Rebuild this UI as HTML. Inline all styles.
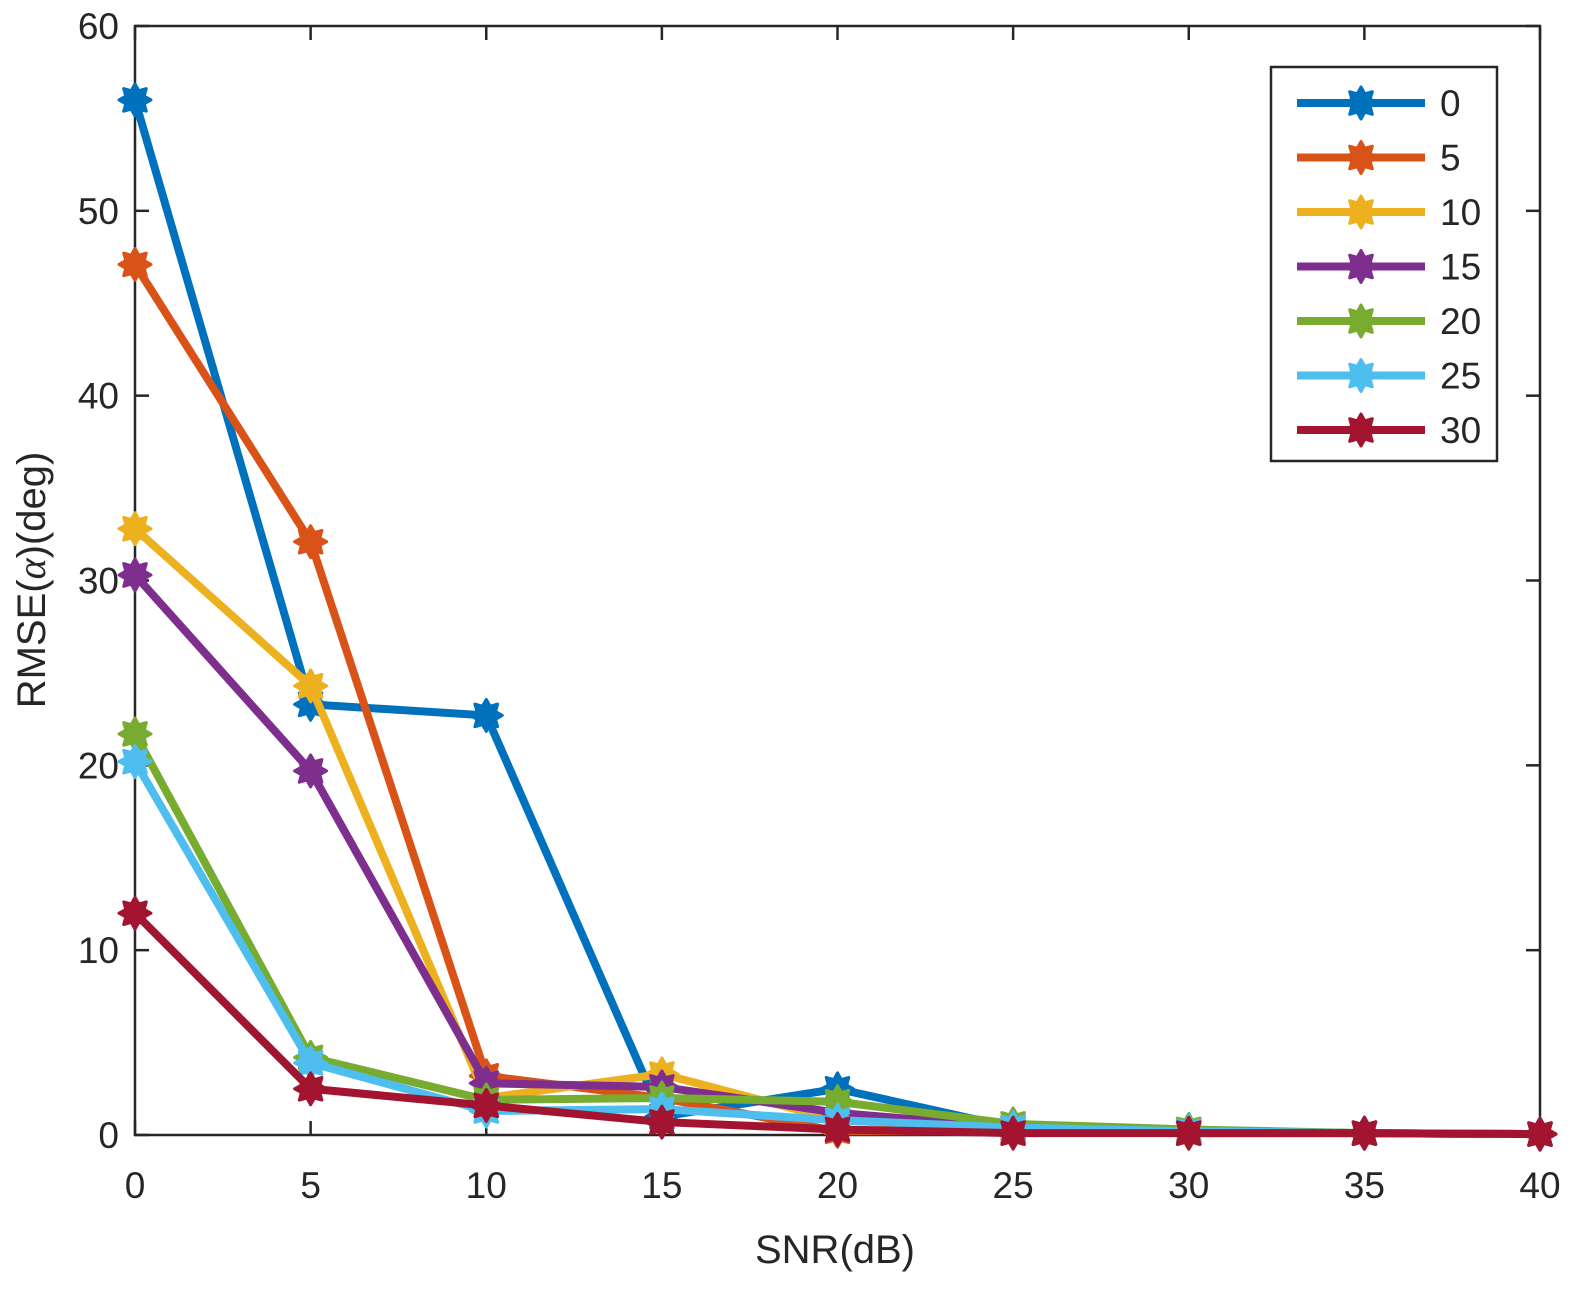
<!DOCTYPE html>
<html><head><meta charset="utf-8"><style>
body{margin:0;background:#fff}
svg text{font-family:"Liberation Sans",sans-serif;fill:#262626}
</style></head><body>
<svg id="c" width="1595" height="1308" xmlns="http://www.w3.org/2000/svg"></svg>
<script>
const xVals=[0,5,10,15,20,25,30,35,40];
const seriesNames=["0","5","10","15","20","25","30"];
const s0=[56,23.3,22.7,1.0,2.5,0.4,0.2,0.1,0.05];
const s5=[47.1,32.1,3.2,2.0,0.2,0.2,0.1,0.1,0.05];
const s10=[32.8,24.3,2.0,3.3,0.8,0.3,0.1,0.1,0.05];
const s15=[30.3,19.7,2.8,2.6,1.2,0.4,0.2,0.1,0.05];
const s20=[21.7,4.2,1.9,2.0,1.8,0.6,0.3,0.1,0.05];
const s25=[20.2,3.9,1.3,1.4,0.8,0.4,0.2,0.1,0.05];
const s30=[12.0,2.5,1.6,0.7,0.3,0.1,0.1,0.1,0.05];
const colors=["#0072BD","#D95319","#EDB120","#7E2F8E","#77AC30","#4DBEEE","#A2142F"];
const xTicks=[0,5,10,15,20,25,30,35,40];
const yTicks=[0,10,20,30,40,50,60];
const allSeries=[s0,s5,s10,s15,s20,s25,s30];
const L=135,R=1540,T=26,B=1135;
const X=v=>L+(v-0)/40*(R-L);
const Y=v=>B-(v/60)*(B-T);
const svg=document.getElementById('c');
const NS="http://www.w3.org/2000/svg";
function mk(tag,attrs,parent){const e=document.createElementNS(NS,tag);for(const k in attrs)e.setAttribute(k,attrs[k]);(parent||svg).appendChild(e);return e;}
function marker(cx,cy,col,g){
  let pts=[];const ro=16,ri=10;
  for(let i=0;i<16;i++){const a=i*Math.PI/8;const r=i%2?ri:ro;pts.push((cx+r*Math.cos(a)).toFixed(1)+","+(cy+r*Math.sin(a)).toFixed(1));}
  const m=mk('polygon',{points:pts.join(' '),fill:col,stroke:col,'stroke-width':3,'stroke-linejoin':'round'},g);
  
  
}
const box=mk('rect',{x:L,y:T,width:R-L,height:B-T,fill:'none',stroke:'#262626','stroke-width':2.5});


xTicks.forEach(t=>{
  mk('line',{x1:X(t),x2:X(t),y1:B,y2:B-14,stroke:'#262626','stroke-width':2.5});
  mk('line',{x1:X(t),x2:X(t),y1:T,y2:T+14,stroke:'#262626','stroke-width':2.5});
  const tx=mk('text',{x:X(t),y:B+63,'font-size':37,'text-anchor':'middle'});tx.textContent=t;
  
  
});
yTicks.forEach(t=>{
  mk('line',{x1:L,x2:L+14,y1:Y(t),y2:Y(t),stroke:'#262626','stroke-width':2.5});
  mk('line',{x1:R,x2:R-14,y1:Y(t),y2:Y(t),stroke:'#262626','stroke-width':2.5});
  const tx=mk('text',{x:L-16,y:Y(t)+13,'font-size':37,'text-anchor':'end'});tx.textContent=t;
  
  
});
const xl=mk('text',{x:835,y:1263,'font-size':40,'text-anchor':'middle'});xl.textContent='SNR(dB)';


const yl=mk('text',{x:0,y:0,'font-size':40,'text-anchor':'middle',transform:'translate(45,580) rotate(-90)'});
yl.innerHTML='RMSE(<tspan font-family="Liberation Serif" font-style="italic">α</tspan>)(deg)';


allSeries.forEach((s,i)=>{
  const g=mk('g',{});
  
  
  const p=mk('polyline',{points:s.map((v,j)=>X(xVals[j])+','+Y(v)).join(' '),fill:'none',stroke:colors[i],'stroke-width':8,'stroke-linejoin':'miter'},g);
  
  
  s.forEach((v,j)=>marker(X(xVals[j]),Y(v),colors[i],g));
});
const lg=mk('g',{});


mk('rect',{x:1271,y:67,width:226,height:394,fill:'#fff',stroke:'#262626','stroke-width':2.5},lg);
seriesNames.forEach((n,i)=>{
  const y=103+i*54.5;
  const e=mk('g',{},lg);
  
  
  mk('line',{x1:1297,x2:1425,y1:y,y2:y,stroke:colors[i],'stroke-width':8},e);
  marker(1361,y,colors[i],e);
  const t=mk('text',{x:1440,y:y+13,'font-size':37},e);t.textContent=n;
});
</script>
</body></html>
